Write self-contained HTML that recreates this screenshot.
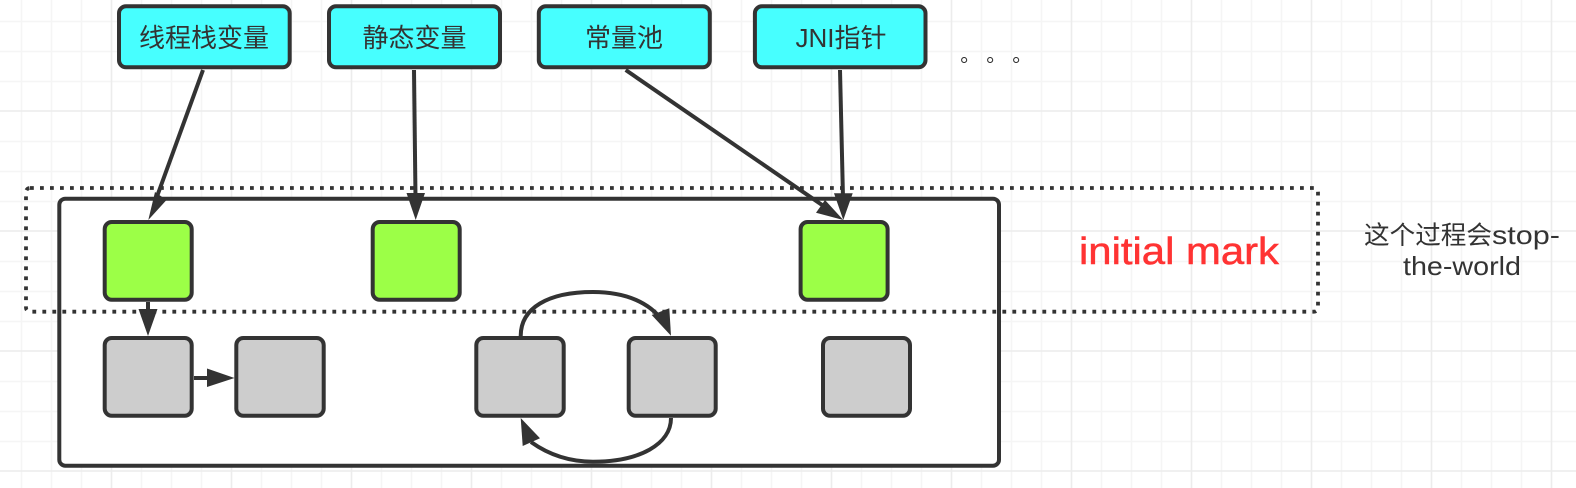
<!DOCTYPE html>
<html>
<head>
<meta charset="utf-8">
<style>
html,body{margin:0;padding:0;background:#fff;width:1576px;height:488px;overflow:hidden}
svg{display:block}
text{font-family:"Liberation Sans","Noto Sans CJK SC",sans-serif;fill:#333}
</style>
</head>
<body>
<svg width="1576" height="488" viewBox="0 0 1576 488" xmlns="http://www.w3.org/2000/svg">
<rect width="1576" height="488" fill="#fff"/>
<!-- grid -->
<g stroke="#f5f5f5" stroke-width="1.6" fill="none">
<path d="M21.5 0V488M51.5 0V488M81.5 0V488M141.5 0V488M171.5 0V488M201.5 0V488M261.5 0V488M291.5 0V488M321.5 0V488M381.5 0V488M411.5 0V488M441.5 0V488M501.5 0V488M531.5 0V488M561.5 0V488M621.5 0V488M651.5 0V488M681.5 0V488M741.5 0V488M771.5 0V488M801.5 0V488M861.5 0V488M891.5 0V488M921.5 0V488M981.5 0V488M1011.5 0V488M1041.5 0V488M1101.5 0V488M1131.5 0V488M1161.5 0V488M1221.5 0V488M1251.5 0V488M1281.5 0V488M1341.5 0V488M1371.5 0V488M1401.5 0V488M1461.5 0V488M1491.5 0V488M1521.5 0V488"/>
<path d="M0 21.5H1576M0 51.5H1576M0 81.5H1576M0 141.5H1576M0 171.5H1576M0 201.5H1576M0 261.5H1576M0 291.5H1576M0 321.5H1576M0 381.5H1576M0 411.5H1576M0 441.5H1576"/>
</g>
<g stroke="#ececec" stroke-width="1.6" fill="none">
<path d="M111.5 0V488M231.5 0V488M351.5 0V488M471.5 0V488M591.5 0V488M711.5 0V488M831.5 0V488M951.5 0V488M1071.5 0V488M1191.5 0V488M1311.5 0V488M1431.5 0V488M1551.5 0V488"/>
<path d="M0 111H1576M0 231H1576M0 351H1576M0 471H1576"/>
</g>

<!-- main container -->
<rect x="59.300" y="198.700" width="939.700" height="267" rx="6" fill="#fff" stroke="#333" stroke-width="4"/>

<!-- top boxes -->
<g fill="#47ffff" stroke="#333" stroke-width="4">
<rect x="119" y="6.300" width="170.700" height="61" rx="7"/>
<rect x="329" y="6.300" width="171" height="61" rx="7"/>
<rect x="538.800" y="6.300" width="171" height="61" rx="7"/>
<rect x="754.900" y="6.300" width="170.600" height="61" rx="7"/>
</g>

<!-- green boxes -->
<g fill="#9cff47" stroke="#333" stroke-width="4">
<rect x="104.700" y="222" width="87" height="77.700" rx="7"/>
<rect x="372.700" y="222" width="87" height="77.700" rx="7"/>
<rect x="800.600" y="222" width="87" height="77.700" rx="7"/>
</g>

<!-- grey boxes -->
<g fill="#cdcdcd" stroke="#333" stroke-width="4">
<rect x="104.700" y="338" width="87" height="77.700" rx="7"/>
<rect x="236.300" y="338" width="87.400" height="77.700" rx="7"/>
<rect x="476.300" y="338" width="87.400" height="77.700" rx="7"/>
<rect x="628.700" y="338" width="87" height="77.700" rx="7"/>
<rect x="823" y="338" width="87" height="77.700" rx="7"/>
</g>

<!-- connectors -->
<g fill="none" stroke="#333" stroke-width="4">
<path d="M203 70L155 202"/>
<path d="M414 70L415.500 198"/>
<path d="M625.700 70L825 207"/>
<path d="M840 70L843 198"/>
<path d="M148 302V312"/>
<path d="M194 378H210"/>
<path d="M520.700 336C520.700 308 548 292 593 292C628 292 650 304 662 320"/>
<path d="M671 418C671 444 640 461.700 593 461.700C565 461.700 545 452 531 442"/>
</g>
<g fill="#333" stroke="none">
<path d="M148.300 220L155 192L166.500 200Z"/>
<path d="M415.700 220L406.500 193H425Z"/>
<path d="M843.300 220L816 212.700L825 200Z"/>
<path d="M843.300 220L834 193.300H852.700Z"/>
<path d="M148 336L138.500 309H157.500Z"/>
<path d="M234.500 378L207 368.500V387Z"/>
<path d="M671 335.700L651.700 315L669.300 308.300Z"/>
<path d="M520.700 418L522.700 446L540 438.300Z"/>
</g>

<!-- dotted rect -->
<rect x="26" y="188" width="1292" height="123.700" rx="4" fill="none" stroke="#333" stroke-width="3.800" stroke-dasharray="3.800 6.200"/>

<!-- labels -->
<g font-size="26" text-anchor="middle">
<text x="204" y="47">线程栈变量</text>
<text x="414.500" y="47">静态变量</text>
<text x="624" y="47">常量池</text>
<text x="841" y="47">JNI指针</text>
</g>
<g font-size="20">
<text x="960.200" y="61.500">。</text>
<text x="986.200" y="61.500">。</text>
<text x="1012.200" y="61.500">。</text>
</g>
<text x="1079" y="264" font-size="38" textLength="200" lengthAdjust="spacingAndGlyphs" stroke="#ff3333" stroke-width="0.5" style="fill:#ff3333">initial mark</text>
<text x="1364" y="244" font-size="25.600">这个过程会</text>
<text x="1492" y="244" font-size="25.600" textLength="68" lengthAdjust="spacingAndGlyphs">stop-</text>
<text x="1403" y="275" font-size="25.600" textLength="118" lengthAdjust="spacingAndGlyphs">the-world</text>
</svg>
</body>
</html>
